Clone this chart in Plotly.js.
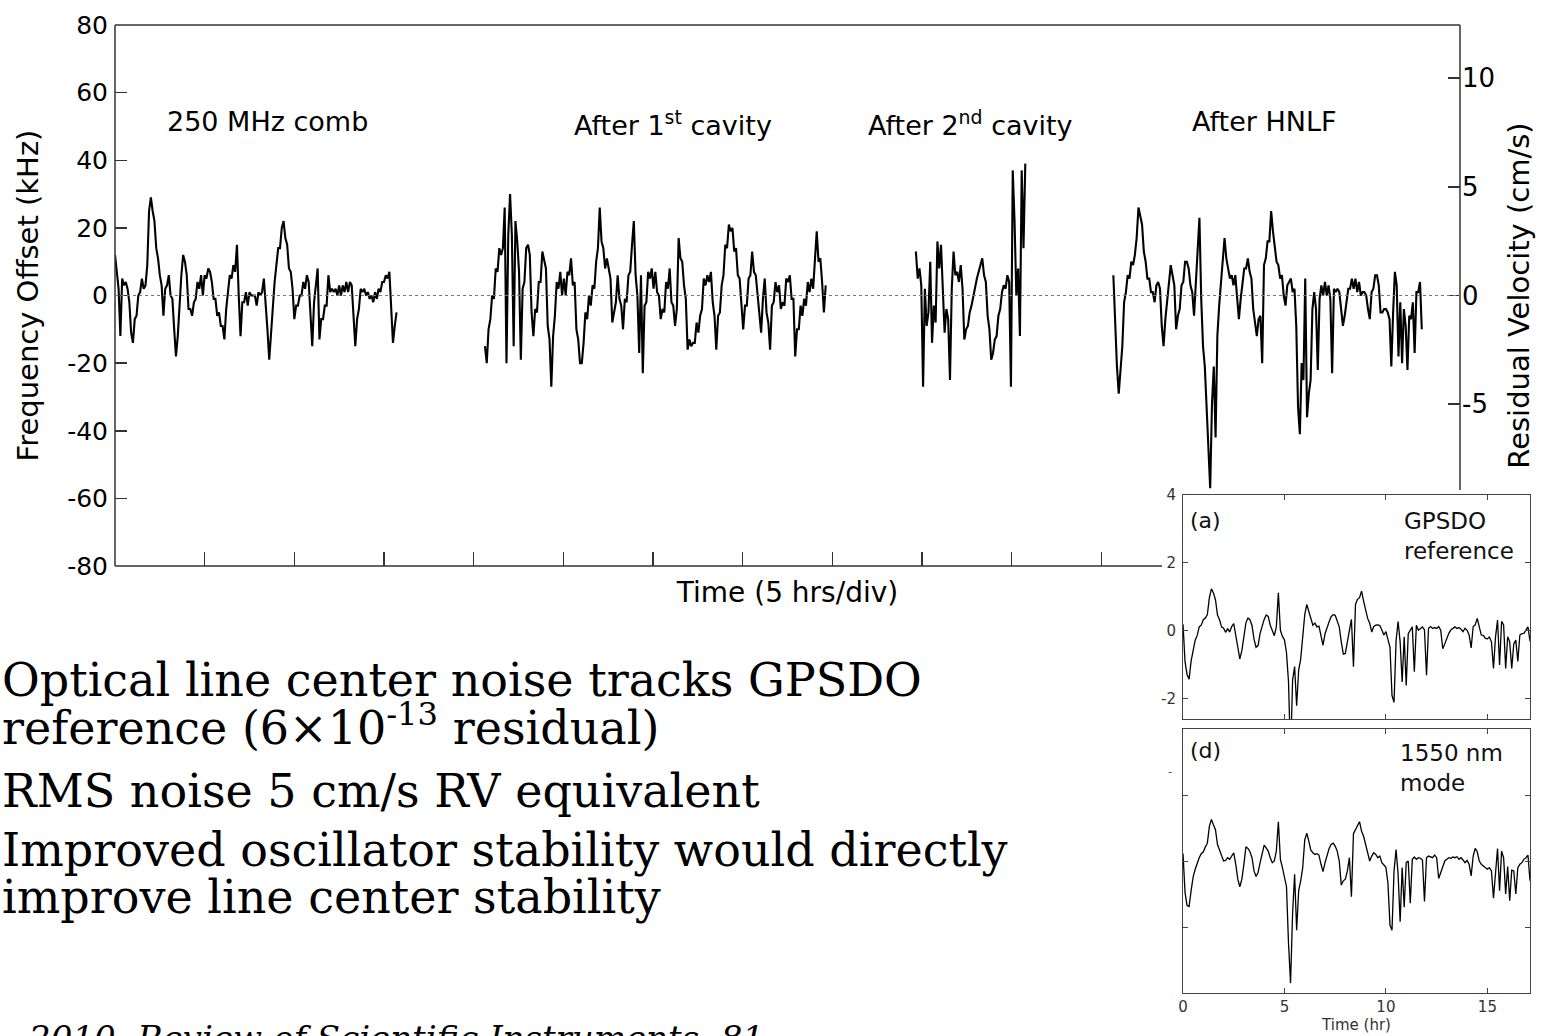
<!DOCTYPE html>
<html>
<head>
<meta charset="utf-8">
<script src="https://cdn.plot.ly/plotly-3.0.1.min.js"></script>
<style>
html,body{margin:0;padding:0;background:#fff;}
#chart{width:1558px;height:1036px;}
</style>
</head>
<body>
<div id="chart"></div>
<script>
// ---------------- DATA ----------------
// Main panel: frequency offset (kHz), sampled every 0.1 hr, four measurement runs
var sampleStepHr = 0.1;
var runStartHr = {comb: 0, cavity1: 20.63, cavity2: 44.66, hnlf: 55.67};
var runLabels = ["250 MHz comb", "After 1<sup>st</sup> cavity", "After 2<sup>nd</sup> cavity", "After HNLF"];

var combKHz = [12, 6, 2, -12, 5, 3, 4, 2, -2, -11,
 -14, -7, -6, 0, 1, 5, 2, 3, 9, 25,
 29, 25, 22, 14, 11, 6, 3, -6, 2, 3,
 6, 0, -1, -10, -18, -12, -2, 6, 12, 10,
 6, -4, -4, -6, -2, -1, 4, 2, 6, 0,
 6, 5, 8, 7, 4, -1, -1, -6, -5, -9,
 -9, -13, -4, 1, 6, 5, 9, 7, 15, 0,
 -12, -2, -2, 1, -3, 1, 0, 0, 0, -3,
 1, 0, 1, 5, -2, -10, -19, -11, -5, 4,
 9, 14, 14, 20, 22, 17, 15, 8, 7, 2,
 -7, -3, -3, 0, 0, 4, 2, 6, 4, -5,
 -15, -2, 3, 8, -13, -7, -7, -3, -3, 6,
 1, 2, 1, 2, 0, 3, 0, 3, 1, 4,
 1, 4, 3, -6, -15, -7, -4, 2, 1, 2,
 0, 1, -1, 0, -2, 1, -1, 2, 1, 4,
 4, 6, 5, 7, -3, -14, -9, -5];

var cavity1KHz = [-15, -20, -10, -7, 0, -1, 8, 7, 14, 12,
 14, 26, -20, 18, 30, 18, -15, 22, 16, 7,
 -19, 2, 4, 14, 15, 12, -5, -12, -4, -5,
 4, 4, 13, 10, 8, -9, -13, -27, -12, -6,
 4, 2, 7, 0, 5, 0, 7, 6, 11, 3,
 4, -10, -13, -20, -20, -14, -5, -7, 0, -3,
 3, 2, 10, 14, 26, 16, 14, 8, 11, 8,
 5, -8, -5, -2, 6, -1, -3, -10, -1, -2,
 6, 7, 15, 22, 6, 0, -17, 6, -23, -3,
 -2, 7, 5, 8, 2, 7, 1, 0, -7, -4,
 -5, 4, 2, 8, -2, -3, -9, -4, 17, 11,
 10, 3, -1, -16, -13, -15, -14, -14, -8, -11,
 -6, -4, 5, 3, 6, 4, 7, -2, -6, -16,
 -6, -5, 3, 6, 15, 14, 21, 19, 20, 13,
 14, 6, 5, -2, -10, -3, -3, 5, 6, 13,
 7, 6, 0, -4, -11, -1, 5, -5, -8, -16,
 -3, -2, 4, 1, 3, -4, -2, -3, 5, 4,
 6, -1, -1, -18, -10, -10, -3, -6, -1, -3,
 4, 1, 5, 2, 11, 19, 10, 11, 4, -5,
 3];

var cavity2KHz = [13, 5, 8, 3, -27, 2, -9, -5, 10, -14,
 -3, -8, 16, 8, 15, 2, -11, -4, -7, -25,
 2, 13, 6, 7, 4, 9, 2, -13, -10, -9,
 -5, -3, 0, 2, 5, 7, 9, 11, 6, 4,
 -6, -10, -19, -17, -13, -12, -6, -4, 1, 3,
 2, 6, 4, -27, 37, 22, 0, 8, -12, 37,
 14, 39];

var hnlfKHz = [6, -10, -21, -29, -21, -15, -2, 1, 6, 5,
 10, 9, 12, 17, 26, 23, 21, 13, 10, 5,
 5, 1, 1, -2, 3, 4, 2, -9, -15, -7,
 -1, 4, 9, 6, 3, -10, -6, -4, 3, 4,
 10, 10, 8, 3, 1, -6, 5, 14, 23, -1,
 -15, -21, -34, -44, -57, -32, -21, -42, -12, -3,
 4, 12, 17, 11, 8, 5, 6, 3, 6, -1,
 -7, -1, 3, 8, 8, 11, 7, 5, -4, -9,
 -12, -7, -6, -20, 9, 11, 16, 16, 25, 19,
 15, 10, 9, 5, 6, 0, -3, 3, 4, 5,
 1, 2, -9, -33, -41, -20, -25, 5, -36, -29,
 -25, -4, 1, -4, -22, -1, 3, 0, 4, 0,
 3, -1, -23, 2, 1, 2, 1, -4, -9, -6,
 -2, 2, 2, 5, 2, 5, 1, 4, 0, 1,
 1, 0, -4, -7, 1, 2, 6, 6, 3, -5,
 -5, -4, -4, -5, -7, -21, -5, 7, 3, -18,
 -2, -20, -4, -9, -22, -6, -7, -2, -17, 1,
 1, 4, -10];

// Insets: (a) GPSDO reference, (d) 1550 nm mode, sampled every 0.1 hr from 0 hr
var gpsdoRef = [0.2, -0.9, -1.28, -1.42, -0.88, -0.62, -0.27, -0.13, 0.12, 0.17,
 0.33, 0.38, 0.48, 0.98, 1.24, 1.12, 0.92, 0.47, 0.33, 0.12,
 0.08, -0.04, 0.07, -0.03, 0.13, 0.22, -0.12, -0.47, -0.82, -0.58,
 -0.23, 0.24, 0.38, 0.33, 0.16, -0.24, -0.48, -0.43, -0.07, 0.18,
 0.34, 0.47, 0.43, 0.17, 0.04, -0.14, 0.12, 1.12, 0.02, -0.16,
 -0.26, -0.64, -1.5, -3.7, -1.45, -1.05, -2.2, -1.15, -0.83, -0.18,
 0.48, 0.78, 0.57, 0.34, 0.17, 0.23, 0.12, 0.14, -0.12, -0.42,
 -0.08, 0.13, 0.27, 0.42, 0.48, 0.46, 0.27, 0.12, -0.32, -0.68,
 -0.66, -0.37, 0.02, 0.34, -1.05, 0.78, 0.93, 0.98, 1.17, 0.88,
 0.62, 0.37, 0.23, -0.03, 0.13, 0.17, 0.18, 0.16, 0.03, -0.12,
 -0.02, -0.22, -0.48, -1.9, -2.1, -0.28, 0.28, -0.32, -1.5, -0.17,
 -1.6, -0.08, 0.03, 0.12, -1.2, 0.17, 0.02, 0.08, 0.12, 0.03,
 -1.3, 0.08, 0.13, 0.07, 0.1, 0.07, 0.13, 0.02, -0.52, -0.38,
 -0.22, -0.07, 0.03, 0.08, 0.12, 0.07, 0.1, 0.05, -0.02, 0.08,
 0.02, -0.12, -0.5, 0.13, 0.18, 0.37, 0.08, -0.12, -0.13, -0.22,
 -0.23, -0.18, -0.32, -1.1, -0.18, 0.32, -1.0, 0.28, 0.18, -1.1,
 -0.17, -0.32, -1.1, -0.38, -0.27, -0.9, -0.12, -0.08, -0.07, 0.02,
 0.12, -0.3];

var mode1550 = [0.23, -0.95, -1.35, -1.38, -0.9, -0.48, -0.25, -0.05, 0.1, 0.22,
 0.28, 0.42, 0.54, 1.05, 1.26, 1.1, 0.95, 0.5, 0.33, 0.15,
 0.0, 0.02, 0.1, 0.05, 0.15, 0.25, -0.1, -0.55, -0.78, -0.55,
 -0.1, 0.43, 0.38, 0.28, 0.1, -0.3, -0.47, -0.35, -0.05, 0.25,
 0.48, 0.4, 0.3, 0.1, -0.05, 0.0, 0.3, 1.19, 0.05, -0.2,
 -0.5, -0.78, -2.5, -3.7, -1.6, -0.4, -2.1, -0.9, -0.6, -0.2,
 0.64, 0.84, 0.6, 0.33, 0.25, 0.2, 0.22, 0.18, -0.1, -0.32,
 -0.05, 0.2, 0.38, 0.5, 0.54, 0.45, 0.3, 0.0, -0.73, -0.6,
 -0.55, -0.3, 0.1, -1.08, 0.83, 0.95, 1.05, 1.19, 0.9, 0.75,
 0.5, 0.2, 0.0, 0.15, 0.25, 0.2, 0.1, 0.15, -0.05, -0.12,
 -0.2, -0.67, -1.94, -2.1, -0.3, 0.35, -0.4, -1.84, -0.2, -1.4,
 -0.05, 0.0, -1.28, 0.05, 0.12, 0.05, 0.1, 0.08, 0.03, -1.23,
 0.1, 0.15, 0.12, 0.1, 0.18, 0.1, -0.53, -0.35, -0.2, 0.0,
 0.05, 0.1, 0.08, 0.12, 0.1, 0.13, 0.05, 0.1, 0.03, -0.05,
 0.02, -0.1, -0.45, 0.15, 0.38, 0.28, 0.0, -0.1, -0.15, -0.2,
 -0.25, -0.2, -0.3, -1.13, -0.27, 0.38, -0.9, 0.3, 0.1, -1.0,
 -0.17, -1.2, -0.28, -0.3, -1.0, -0.2, -0.1, -0.05, 0.05, 0.1,
 0.18, -0.6];

// Tick labels
var kHzTicks = [-80, -60, -40, -20, 0, 20, 40, 60, 80];
var kHzTickText = ["-80", "-60", "-40", "-20", "0", "20", "40", "60", "80"];
var velTicks = [-5, 0, 5, 10];
var velTickText = ["-5", "0", "5", "10"];
var timeDivTicks = [5, 10, 15, 20, 25, 30, 35, 40, 45, 50, 55];
var insetTimeTicks = [0, 5, 10, 15];
var insetTimeText = ["0", "5", "10", "15"];
var insetATicks = [-2, 0, 2, 4];
var insetATickText = ["-2", "0", "2", "4"];
var insetDTicks = [-2, 0, 2];

var bulletLines = [
  "Optical line center noise tracks GPSDO",
  "reference (6×10<sup>-13</sup> residual)",
  "RMS noise 5 cm/s RV equivalent",
  "Improved oscillator stability would directly",
  "improve line center stability"
];
var citation = "2010, Review of Scientific Instruments, 81";

// ---------------- LAYOUT ----------------
var W = 1558, H = 1036;
function px(x){ return x / W; }
function py(y){ return 1 - y / H; }

var sans = "DejaVu Sans, Arial, sans-serif";
var serif = "DejaVu Serif, Liberation Serif, serif";
var ink = "#000";
var axisInk = "#333";

function run(y, start){
  return {type: "scatter", mode: "lines", x0: start, dx: sampleStepHr, y: y,
    xaxis: "x", yaxis: "y", line: {color: "#000", width: 2.1},
    hoverinfo: "skip", showlegend: false};
}

var traces = [
  run(combKHz, runStartHr.comb),
  run(cavity1KHz, runStartHr.cavity1),
  run(cavity2KHz, runStartHr.cavity2),
  run(hnlfKHz, runStartHr.hnlf),
  {type: "scatter", mode: "lines", x: [0], y: [0], xaxis: "x", yaxis: "y2",
   hoverinfo: "skip", showlegend: false, line: {color: "rgba(0,0,0,0)"}},
  {type: "scatter", mode: "lines", x0: 0, dx: sampleStepHr, y: gpsdoRef,
   xaxis: "x2", yaxis: "y3", line: {color: "#000", width: 1.3}, hoverinfo: "skip", showlegend: false},
  {type: "scatter", mode: "lines", x0: 0, dx: sampleStepHr, y: mode1550,
   xaxis: "x3", yaxis: "y4", line: {color: "#000", width: 1.3}, hoverinfo: "skip", showlegend: false}
];

var insetAxis = {showline: true, linecolor: "#444", linewidth: 1, mirror: "ticks",
  ticks: "inside", ticklen: 5, tickcolor: "#444", showgrid: false, zeroline: false,
  tickfont: {family: sans, size: 15, color: "#333"}};

var layout = {
  width: W, height: H,
  margin: {l: 0, r: 0, t: 0, b: 0},
  paper_bgcolor: "#fff", plot_bgcolor: "rgba(0,0,0,0)",
  showlegend: false,
  font: {family: sans, color: ink},
  xaxis: {
    domain: [px(115), px(1460)], range: [0, 75], anchor: "y",
    showline: false, showgrid: false, zeroline: false,
    ticks: "inside", tickvals: timeDivTicks, ticklen: 14, tickwidth: 1.5, tickcolor: axisInk,
    showticklabels: false,
    title: {text: "Time (5 hrs/div)", font: {family: sans, size: 28, color: ink}, standoff: 16}
  },
  yaxis: {
    domain: [py(566), py(25)], range: [-80, 80], anchor: "x",
    showline: false, showgrid: false, zeroline: false,
    ticks: "inside", tickvals: kHzTicks, ticktext: kHzTickText, ticklen: 12, tickwidth: 1.5, tickcolor: axisInk,
    tickfont: {family: sans, size: 25, color: ink}, ticklabelstandoff: 6,
    title: {text: "Frequency Offset (kHz)", font: {family: sans, size: 29, color: ink}, standoff: 20}
  },
  yaxis2: {
    overlaying: "y", side: "right", anchor: "x", range: [-12.44, 12.44],
    showline: false, showgrid: false, zeroline: false,
    ticks: "inside", tickvals: velTicks, ticktext: velTickText, ticklen: 12, tickwidth: 1.5, tickcolor: axisInk,
    tickfont: {family: sans, size: 26, color: ink}, ticklabelstandoff: 1,
    title: {text: "Residual Velocity (cm/s)", font: {family: sans, size: 29, color: ink}, standoff: 14}
  },
  xaxis2: Object.assign({}, insetAxis, {
    domain: [px(1183), px(1530)], anchor: "y3", range: [0, 17.1],
    tickvals: insetTimeTicks, showticklabels: false
  }),
  yaxis3: Object.assign({}, insetAxis, {
    domain: [py(719), py(495)], anchor: "x2", range: [-2.59, 4],
    tickvals: insetATicks, ticktext: insetATickText, ticklabelstandoff: 3
  }),
  xaxis3: Object.assign({}, insetAxis, {
    domain: [px(1183), px(1530)], anchor: "y4", range: [0, 17.1],
    tickvals: insetTimeTicks, ticktext: insetTimeText,
    title: {text: "Time (hr)", font: {family: sans, size: 15, color: "#333"}, standoff: 1}
  }),
  yaxis4: Object.assign({}, insetAxis, {
    domain: [py(993), py(729)], anchor: "x3", range: [-4, 4],
    tickvals: insetDTicks, showticklabels: false
  }),
  shapes: [
    // main frame (stops where the inset covers it)
    {type: "line", xref: "paper", yref: "paper", x0: px(115), x1: px(115), y0: py(566), y1: py(25), line: {color: axisInk, width: 1.5}},
    {type: "line", xref: "paper", yref: "paper", x0: px(115), x1: px(1460), y0: py(25), y1: py(25), line: {color: axisInk, width: 1.5}},
    {type: "line", xref: "paper", yref: "paper", x0: px(1460), x1: px(1460), y0: py(25), y1: py(490), line: {color: axisInk, width: 1.5}},
    {type: "line", xref: "paper", yref: "paper", x0: px(115), x1: px(1162), y0: py(566), y1: py(566), line: {color: axisInk, width: 1.5}},
    // dotted zero reference
    {type: "line", xref: "paper", yref: "y", x0: px(115), x1: px(1460), y0: 0, y1: 0, line: {color: "#777", width: 1, dash: "dot"}}
  ],
  annotations: [
    {xref: "x", yref: "y", x: 8.53, y: 51.6, text: runLabels[0], showarrow: false, xanchor: "center", yanchor: "middle", font: {family: sans, size: 27, color: ink}},
    {xref: "x", yref: "y", x: 31.1, y: 51.0, text: runLabels[1], showarrow: false, xanchor: "center", yanchor: "middle", font: {family: sans, size: 27, color: ink}},
    {xref: "x", yref: "y", x: 47.7, y: 51.0, text: runLabels[2], showarrow: false, xanchor: "center", yanchor: "middle", font: {family: sans, size: 27, color: ink}},
    {xref: "x", yref: "y", x: 64.1, y: 51.6, text: runLabels[3], showarrow: false, xanchor: "center", yanchor: "middle", font: {family: sans, size: 27, color: ink}},
    {xref: "paper", yref: "paper", x: px(1188), y: py(520), text: "(a)", showarrow: false, xanchor: "left", yanchor: "middle", font: {family: sans, size: 22, color: "#111"}},
    {xref: "paper", yref: "paper", x: px(1402), y: py(536), text: "GPSDO<br>reference", showarrow: false, xanchor: "left", yanchor: "middle", align: "left", font: {family: sans, size: 23, color: "#111"}},
    {xref: "paper", yref: "paper", x: px(1188), y: py(750), text: "(d)", showarrow: false, xanchor: "left", yanchor: "middle", font: {family: sans, size: 22, color: "#111"}},
    {xref: "paper", yref: "paper", x: px(1398), y: py(768), text: "1550 nm<br>mode", showarrow: false, xanchor: "left", yanchor: "middle", align: "left", font: {family: sans, size: 23, color: "#111"}},
    {xref: "paper", yref: "paper", x: px(1170), y: py(772), text: "-", showarrow: false, xanchor: "center", yanchor: "middle", font: {family: sans, size: 12, color: "#555"}},
    {xref: "paper", yref: "paper", x: 0, y: py(680), text: bulletLines[0], showarrow: false, xanchor: "left", yanchor: "middle", font: {family: serif, size: 46, color: ink}},
    {xref: "paper", yref: "paper", x: 0, y: py(725), text: bulletLines[1], showarrow: false, xanchor: "left", yanchor: "middle", font: {family: serif, size: 46, color: ink}},
    {xref: "paper", yref: "paper", x: 0, y: py(791), text: bulletLines[2], showarrow: false, xanchor: "left", yanchor: "middle", font: {family: serif, size: 46, color: ink}},
    {xref: "paper", yref: "paper", x: 0, y: py(850), text: bulletLines[3], showarrow: false, xanchor: "left", yanchor: "middle", font: {family: serif, size: 46, color: ink}},
    {xref: "paper", yref: "paper", x: 0, y: py(897), text: bulletLines[4], showarrow: false, xanchor: "left", yanchor: "middle", font: {family: serif, size: 46, color: ink}},
    {xref: "paper", yref: "paper", x: px(26), y: py(1016), text: "<i>" + citation + "</i>", showarrow: false, xanchor: "left", yanchor: "top", font: {family: serif, size: 34, color: ink}}
  ]
};

Plotly.newPlot("chart", traces, layout, {displayModeBar: false, staticPlot: true});
</script>
</body>
</html>
